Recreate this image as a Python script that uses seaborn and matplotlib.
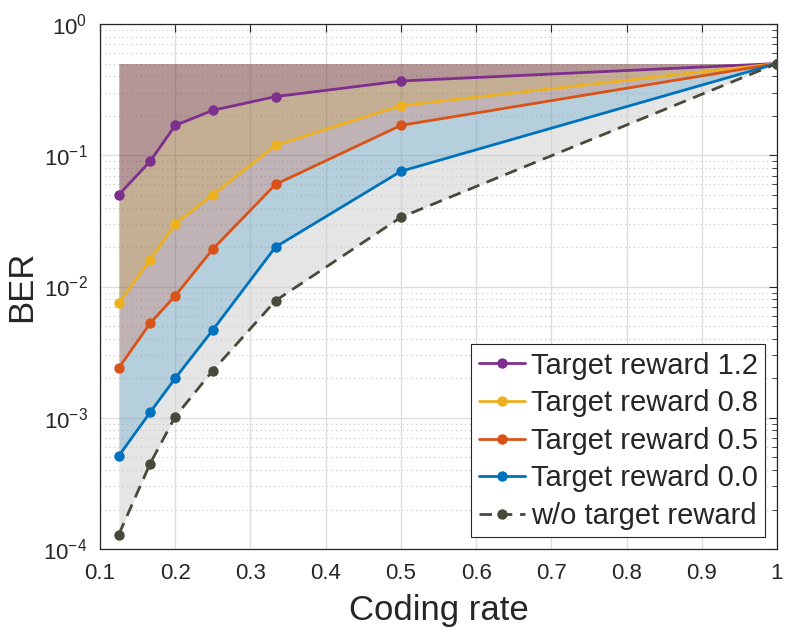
import numpy as np
import pandas as pd
import seaborn as sns
import matplotlib.pyplot as plt
from matplotlib.ticker import LogLocator, NullFormatter, FuncFormatter

# Datos
coding_rate = [1/8, 1/6, 1/5, 1/4, 1/3, 1/2, 1.0]
ber_12 = [0.050, 0.090, 0.169, 0.220, 0.280, 0.368, 0.5]
ber_08 = [0.00745, 0.0160, 0.030, 0.050, 0.119, 0.239, 0.5]
ber_05 = [0.0024, 0.00525, 0.0085, 0.0193, 0.060, 0.169, 0.5]
ber_00 = [0.000513, 0.0011, 0.0020, 0.00467, 0.020, 0.0755, 0.5]
ber_base = [0.000129, 0.000448, 0.00102, 0.00229, 0.0078, 0.0337, 0.5]
ber_top = 0.5

labels = ["Target reward 1.2", "Target reward 0.8", "Target reward 0.5",
          "Target reward 0.0", "w/o target reward"]
series = [ber_12, ber_08, ber_05, ber_00, ber_base]
colores = ["#7E2F8E", "#EDB120", "#D95319", "#0072BD", "#474a3a"]
# colores de relleno (alpha 0.5 sobre blanco)
rellenos = ["#692f2d", "#8b612b", "#81696d", "#6fa1bd", "#cdcdcd"]

sns.set_style("white")
plt.rcParams['font.family'] = ['Liberation Sans', 'DejaVu Sans']
plt.rcParams['mathtext.fontset'] = 'custom'
plt.rcParams['mathtext.rm'] = 'Liberation Sans'
plt.rcParams['mathtext.it'] = 'Liberation Sans'

fig = plt.figure(figsize=(7.9, 6.39), dpi=100)
ax = fig.add_axes([0.1266, 0.1408, 0.8569, 0.8216])

# rellenos entre curvas
tops = [[ber_top] * len(coding_rate)] + series[:-1]
for arriba, abajo, c in zip(tops, series, rellenos):
    ax.fill_between(coding_rate, abajo, arriba, color=c, alpha=0.5, lw=0, zorder=1)

df = pd.DataFrame({"rate": coding_rate * len(series),
                   "ber": sum(series, []),
                   "curva": sum([[l] * len(coding_rate) for l in labels], [])})
for lab, col in zip(labels, colores):
    sns.lineplot(data=df[df.curva == lab], x="rate", y="ber", ax=ax, color=col,
                 marker="o", markersize=7.5, markeredgewidth=0, lw=2.0,
                 linestyle="--" if lab.startswith("w/o") else "-",
                 dashes=False, label=lab, zorder=3)
ax.lines[-1].set_dashes([4.5, 2.8])

ax.set_yscale("log")
ax.set_xlim(0.1, 1)
ax.set_ylim(1e-4, 1)
ax.set_xticks(np.arange(0.1, 1.01, 0.1))
ax.set_xticklabels(["0.1", "0.2", "0.3", "0.4", "0.5", "0.6", "0.7", "0.8", "0.9", "1"])
ax.yaxis.set_major_locator(LogLocator(base=10, numticks=10))
ax.yaxis.set_major_formatter(FuncFormatter(lambda v, p: r"$10^{%d}$" % round(np.log10(v))))
ax.yaxis.set_minor_locator(LogLocator(base=10, subs=np.arange(2, 10), numticks=20))
ax.yaxis.set_minor_formatter(NullFormatter())

ax.grid(which="major", color="#dedede", lw=1.0, ls="-", zorder=0)
ax.grid(which="minor", axis="y", color="#c4c4c4", lw=0.8, ls=(0, (1, 3)), zorder=0)
ax.set_axisbelow(True)

ax.tick_params(which="both", direction="in", top=True, right=True, color="#262626",
               labelcolor="#262626")
ax.tick_params(axis="x", which="major", labelsize=16, pad=10)
ax.tick_params(axis="y", which="major", labelsize=16, pad=9)
ax.tick_params(which="major", length=6)
ax.tick_params(which="minor", length=3.5)
for s in ax.spines.values():
    s.set_color("#262626")
    s.set_linewidth(0.9)

ax.set_xlabel("Coding rate", fontsize=25, color="#262626", labelpad=7)
ax.set_ylabel("BER", fontsize=25, color="#262626", labelpad=4)

leg = ax.legend(loc="lower right", fontsize=21, frameon=True, fancybox=False,
                framealpha=1, edgecolor="#262626", borderaxespad=0.4,
                handlelength=1.6, handletextpad=0.2, labelspacing=0.33, borderpad=0.25)
leg.get_frame().set_linewidth(0.8)

fig.savefig("out.png", dpi=100)
